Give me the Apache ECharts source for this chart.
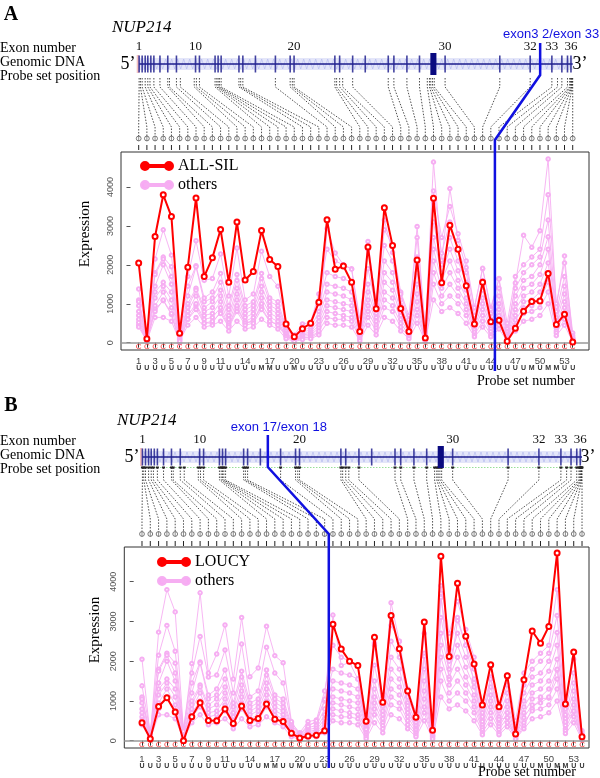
<!DOCTYPE html>
<html><head><meta charset="utf-8">
<script src="https://cdn.jsdelivr.net/npm/echarts@6/dist/echarts.min.js"></script>
<style>html,body{margin:0;padding:0;background:#fff}#c{width:600px;height:778px}</style>
</head><body><div id="c"></div>
<script>
// ---------------- DATA ----------------
const probeNumbers = [1,2,3,4,5,6,7,8,9,10,11,12,13,14,15,16,17,18,19,20,21,22,23,24,25,26,27,28,29,30,31,32,33,34,35,36,37,38,39,40,41,42,43,44,45,46,47,48,49,50,51,52,53,54];
const tickLabelProbes = [1,3,5,7,9,11,14,17,20,23,26,29,32,35,38,41,44,47,50,53];
const yTickValues = [0,1000,2000,3000,4000];
const probeTypes = ['U','U','U','U','U','U','U','U','U','U','U','U','U','U','U','M','M','U','U','M','U','U','U','U','U','U','U','U','U','U','U','U','U','U','U','U','U','U','U','U','U','U','U','U','U','U','U','U','M','U','M','M','U','U'];

const allSil = [2050,100,2730,3800,3240,240,1940,3720,1700,2180, 2910,1550,3100,1610,1830,2880,2140,1960,480,150, 360,500,1040,3160,1890,1970,1550,290,2460,870, 3470,2500,880,290,2125,120,3710,1540,3020,2400, 1460,480,1550,540,575,35,370,810,1060,1070, 1780,470,730,20];
const loucy = [450,50,860,1080,720,0,600,955,510,500, 800,430,870,510,560,920,540,480,185,70, 120,135,250,2930,2305,2000,1890,490,2600,965, 3150,2315,1250,590,2985,260,4640,2120,3960,2625, 1930,900,1910,855,1635,170,1535,2760,2450,2875, 4720,920,2230,100];

// other cell lines (shared by both panels)
const o1 = [1380,200,2150,2900,2250,300,1700,2620,1600,1650, 2280,1200,2430,1100,1250,2350,1700,1450,450,200, 480,520,1250,2400,2100,2000,1900,600,2400,1100, 2900,2500,1300,700,2700,350,3900,2700,3500,2800, 2100,900,1900,900,1650,500,1700,2000,2200,2400, 3800,1000,2050,250];
const o2 = [1100,150,1800,2200,1950,250,1450,1980,1150,1300, 1780,950,1750,950,1050,1780,1150,1050,400,150, 400,450,1000,1800,1700,1650,1550,450,1900,900, 2500,2100,1100,550,2200,280,3600,2300,3100,2400, 1800,700,1600,750,1400,350,1400,1800,2000,2200, 3150,800,1700,180];
const o3 = [1050,130,1750,2150,1700,200,1200,1950,1050,1150, 1550,850,1600,850,950,1650,1050,950,350,130, 330,380,800,1500,1450,1400,1300,350,1500,750, 2100,1800,950,450,1800,220,3100,2000,2700,2100, 1550,600,1350,600,1200,280,1200,1600,1700,2000, 2720,650,1450,130];
const o4 = [950,110,1450,2000,1500,150,1000,1400,900,1050, 1350,700,1400,750,850,1450,950,850,300,110, 280,320,650,1300,1250,1200,1100,300,1300,650, 1800,1550,800,380,1500,180,2700,1800,2400,1850, 1350,500,1150,500,1000,220,1000,1400,1500,1750, 2400,550,1250,100];
const o5 = [800,100,1300,1550,1300,120,900,1350,800,900, 1200,600,1250,650,750,1300,850,750,250,90, 230,270,550,1100,1050,1000,950,250,1100,550, 1550,1350,700,320,1250,150,2400,1600,2100,1600, 1150,400,1000,420,850,170,850,1200,1300,1500, 2050,450,1050,80];
const o6 = [700,80,1150,1450,1100,100,800,1200,700,750, 1050,500,1100,550,650,1150,750,650,220,70, 200,230,450,950,900,850,800,200,950,450, 1300,1150,600,260,1050,120,2100,1400,1800,1400, 1000,330,850,350,700,130,700,1050,1100,1300, 1800,380,900,60];
const o7 = [600,60,950,1300,900,80,700,1000,600,650, 900,450,950,500,550,1000,650,550,180,60, 160,190,380,800,750,700,650,150,800,380, 1100,950,500,200,850,90,1800,1200,1500,1200, 850,270,700,280,580,100,580,900,950,1100, 1550,300,750,40];
const o8 = [520,50,800,1100,750,60,600,850,500,550, 750,400,800,450,500,850,550,450,150,50, 120,150,300,650,600,600,550,100,650,300, 900,800,400,150,700,60,1500,1000,1200,1000, 700,200,550,200,450,70,450,750,800,900, 1300,250,600,30];
const o9 = [400,40,650,650,550,40,450,650,400,450, 550,300,550,350,400,600,450,350,100,30, 80,100,200,500,450,450,400,50,450,200, 650,550,300,100,500,40,1100,800,900,750, 500,150,400,150,350,40,300,550,600,700, 1000,180,450,20];
const sharedOthers = [o1,o2,o3,o4,o5,o6,o7,o8,o9];

// gene model (relative genomic coordinate, 0 = 5' end, 1000 = 3' end)
const geneSpan = [0, 1000];
const exonPos = [1,8,15,21,28,35,49,67,87,131,140,176,183,190,231,240,269,315,349,358,452,463,493,522,575,588,618,647,672,706,832,902,952,975,988,996];
const exonWidth = [2,2,2,2,2,3,2,3,2,3,2,3,2,2,3,2,2,2,3,2,2,2,2,2,2,2,2,2,14,2,2,2,2,2,2,2];
const exonLabelled = [1,10,20,30,32,33,36];
const probeGenomicPos = [1,4,8,15,21,26,35,49,67,71,87,96,128,133,140,176,180,183,186,190,231,235,240, 315,349,354,358,452,456,463,470,493,575,588,618,647,665,670,673,677,681,706,832,902, 952,965,975,988,993,995,997,998,999,1000];
const breakA = {gene: 925, probe: 44.5, label: 'exon3 2/exon 33'};
const breakB = {gene: 286, probe: 23.5, label: 'exon 17/exon 18'};

// ---------------- LAYOUT ----------------
const SERIF = '"Liberation Serif", "DejaVu Serif", serif';
const SANS = '"Liberation Sans", "DejaVu Sans", sans-serif';
const PINK = '#f6aef2';
const RED = '#ff0000';
const BLUE = '#1010e0';
const g2i = g => 1 + 53 * g / 1000;

const PA = {xmin:-1.16, xmax:55.99, left:121, width:468, top:152, height:198, ymin:-188, ymax:4900,
  diagTop:30, diagH:120, exonLabelY:47, geneY:64, probeTopY:78, probeVY:87, probeDY:127, circleY:138.5, tickY1:145, tickY2:150,
  blueTop:43, blueK1:75, blueK2:140, blueEnd:371, labelDy:-9, green:false};
const PB = {xmin:-1.13, xmax:54.84, left:124.3, width:464.7, top:547, height:201, ymin:-184, ymax:4873,
  diagTop:425, diagH:122, exonLabelY:440, geneY:457, probeTopY:467.5, probeVY:480, probeDY:519, circleY:534, tickY1:541, tickY2:546,
  blueTop:435, blueK1:467, blueK2:534, blueEnd:768, labelDy:-8, green:true};

const grids = [], xAxes = [], yAxes = [];
function addAxes(P) {
  grids.push({left:P.left, width:P.width, top:P.diagTop, height:P.diagH, show:false});
  grids.push({left:P.left, width:P.width, top:P.top, height:P.height, show:true, borderColor:'#333', borderWidth:1, backgroundColor:'transparent'});
  const gi = grids.length - 2;
  P.dx = xAxes.length; xAxes.push({gridIndex:gi, type:'value', min:P.xmin, max:P.xmax, show:false});
  P.px = xAxes.length; xAxes.push({gridIndex:gi+1, type:'value', min:P.xmin, max:P.xmax, position:'bottom',
    axisLine:{show:false}, splitLine:{show:false},
    axisTick:{show:true, customValues:probeNumbers, length:5, lineStyle:{color:'#333'}},
    axisLabel:{show:true, customValues:tickLabelProbes, margin:6, fontSize:9.5, color:'#444', fontFamily:SANS, formatter: v => String(v)}});
  xAxes.push({gridIndex:gi+1, type:'value', min:P.xmin, max:P.xmax, position:'bottom',
    axisLine:{show:false}, splitLine:{show:false}, axisTick:{show:false},
    axisLabel:{show:true, customValues:probeNumbers, margin:15, fontSize:7, color:'#333', fontFamily:SANS, fontWeight:'bold',
      formatter: v => probeTypes[Math.round(v)-1] || ''}});
  P.dy = yAxes.length; yAxes.push({gridIndex:gi, type:'value', min:0, max:P.diagH, inverse:true, show:false});
  P.py = yAxes.length; yAxes.push({gridIndex:gi+1, type:'value', min:P.ymin, max:P.ymax,
    axisLine:{show:false}, splitLine:{show:false},
    axisTick:{show:true, customValues:yTickValues, length:4, lineStyle:{color:'#555'}},
    axisLabel:{show:true, customValues:yTickValues, rotate:90, margin:6, fontSize:9, color:'#555', fontFamily:SANS, formatter: v => String(v)}});
}
addAxes(PA); addAxes(PB);

function diagramSeries(P, brk) {
  const base = {type:'custom', coordinateSystem:'cartesian2d', xAxisIndex:P.dx, yAxisIndex:P.dy, silent:true, animation:false, clip:false};
  const X = (api, idx) => api.coord([idx, 0])[0];
  return [
    {...base, z:3, data:[geneSpan], renderItem:(params, api) => {
      const x0 = X(api, g2i(api.value(0))), x1 = X(api, g2i(api.value(1)));
      const ch = [{type:'rect', shape:{x:x0, y:P.geneY-6, width:x1-x0, height:12}, style:{fill:'#d8dbf7', opacity:0.7}}];
      const pts = [];
      for (let x = x0, k = 0; x <= x1; x += 3, k++) pts.push([x, P.geneY + (k % 2 ? -5 : 5)]);
      ch.push({type:'polyline', shape:{points:pts}, style:{stroke:'#b0b7ee', lineWidth:0.6, fill:null}});
      ch.push({type:'line', shape:{x1:x0, y1:P.geneY, x2:x1, y2:P.geneY}, style:{stroke:'#1c1c8c', lineWidth:1.6}});
      ch.push({type:'rect', shape:{x:x0-2, y:P.geneY-9, width:2.5, height:18}, style:{fill:'#f3c0c0'}});
      if (P.green) ch.push({type:'line', shape:{x1:x0, y1:P.probeTopY, x2:x1, y2:P.probeTopY}, style:{stroke:'#98e098', lineWidth:1, lineDash:[1.5,1.5]}});
      return {type:'group', children:ch};
    }},
    {...base, z:4, data:exonPos.map((p,i)=>[p, exonWidth[i], i+1]), renderItem:(params, api) => {
      const xa = X(api, g2i(api.value(0))), xb = X(api, g2i(api.value(0) + api.value(1)));
      const w = Math.max(1.6, xb - xa), n = api.value(2), big = api.value(1) > 5;
      const h = big ? 22 : 17;
      const ch = [{type:'rect', shape:{x:xa - (big?0:w/2), y:P.geneY-h/2, width:w, height:h}, style:{fill: big ? '#0a0a80' : '#22228f', opacity: big ? 1 : 0.85}}];
      if (exonLabelled.includes(n)) ch.push({type:'text', x:xa, y:P.exonLabelY, style:{text:String(n), font:'13px '+SERIF, fill:'#111', align:'center', verticalAlign:'middle', textAlign:'center', textVerticalAlign:'middle'}});
      return {type:'group', children:ch};
    }},
    {...base, z:3, data:probeGenomicPos.map((g,i)=>[g, probeNumbers[i]]), renderItem:(params, api) => {
      const xt = X(api, g2i(api.value(0))), xb = X(api, api.value(1));
      const ch = [
        {type:'polyline', shape:{points:[[xt,P.probeTopY],[xt,P.probeVY],[xb,P.probeDY],[xb,P.circleY-2.5]]}, style:{stroke:'#222', lineWidth:0.8, lineDash:[1.5,1.5], fill:null}},
        {type:'circle', shape:{cx:xb, cy:P.circleY, r:2.4}, style:{stroke:'#444', lineWidth:0.7, fill:'#fff'}},
        {type:'line', shape:{x1:xb, y1:P.circleY-2.4, x2:xb, y2:P.circleY+2.4}, style:{stroke:'#444', lineWidth:0.6}},
        {type:'line', shape:{x1:xb, y1:P.tickY1, x2:xb, y2:P.tickY2}, style:{stroke:'#222', lineWidth:1}}
      ];
      if (P.green) ch.push({type:'rect', shape:{x:xt-1.5, y:P.probeTopY-1, width:3, height:2}, style:{fill:'#222'}});
      return {type:'group', children:ch};
    }},
    {...base, z:20, data:[[brk.gene, brk.probe]], renderItem:(params, api) => {
      const xt = X(api, g2i(api.value(0))), xb = X(api, api.value(1));
      return {type:'group', children:[
        {type:'polyline', shape:{points:[[xt,P.blueTop],[xt,P.blueK1],[xb,P.blueK2],[xb,P.blueEnd]]}, style:{stroke:BLUE, lineWidth:2.5, fill:null}},
        {type:'text', x:xt+11, y:P.blueTop+P.labelDy, style:{text:brk.label, font:'13px '+SANS, fill:BLUE, align:'center', verticalAlign:'middle', textAlign:'center', textVerticalAlign:'middle'}}
      ]};
    }}
  ];
}

function plotSeries(P, focusName, focusData, extraOther) {
  const list = [];
  const others = sharedOthers.slice(0, 5).concat([extraOther]).concat(sharedOthers.slice(5));
  others.forEach(arr => list.push({type:'line', name:'others', xAxisIndex:P.px, yAxisIndex:P.py,
    data: arr.map((v,i)=>[probeNumbers[i], v]), symbol:'emptyCircle', symbolSize:3.5, showSymbol:true,
    lineStyle:{color:PINK, width:0.9}, itemStyle:{color:PINK, borderColor:PINK, borderWidth:0.6}, z:2, silent:true, animation:false}));
  list.push({type:'custom', xAxisIndex:P.px, yAxisIndex:P.py, silent:true, animation:false, z:3, clip:false,
    data: probeNumbers.map(i => [i, -100]),
    renderItem:(params, api) => {
      const p = api.coord([api.value(0), api.value(1)]);
      return {type:'text', x:p[0], y:p[1], style:{text:'C', font:'8px '+SANS, fill:'#ff3030', align:'center', verticalAlign:'middle', textAlign:'center', textVerticalAlign:'middle'}};
    }});
  list.push({type:'line', name:focusName, xAxisIndex:P.px, yAxisIndex:P.py,
    data: focusData.map((v,i)=>[probeNumbers[i], v]), symbol:'emptyCircle', symbolSize:5, showSymbol:true,
    lineStyle:{color:RED, width:2}, itemStyle:{color:RED, borderColor:RED, borderWidth:1.5}, z:6, silent:true, animation:false,
    markLine:{silent:true, symbol:'none', label:{show:false}, lineStyle:{color:'#999', width:1.5, type:'solid'}, data:[{yAxis:0}], animation:false}});
  return list;
}

const ICON = 'path://M4,0A4,4,0,1,1,4,8A4,4,0,1,1,4,0Z M4,3.1H28V4.9H4Z M28,0A4,4,0,1,1,28,8A4,4,0,1,1,28,0Z';
function legendFor(name, left, top) {
  return {orient:'vertical', left, top, itemWidth:32, itemHeight:8, itemGap:3, icon:ICON,
    data:[{name, itemStyle:{color:RED}}, {name:'others', itemStyle:{color:'#f8a8f4'}}],
    textStyle:{fontFamily:SERIF, fontSize:16, color:'#000', padding:[0,0,0,0]}, selectedMode:false};
}

function txt(x, y, text, font, opts) {
  return Object.assign({type:'text', x, y, silent:true, style:Object.assign({text, font, fill:'#000', align:'left', verticalAlign:'middle', textAlign:'left', textVerticalAlign:'middle'}, opts||{})});
}
const graphics = [
  txt(11, 15, 'A', 'bold 20px '+SERIF, {align:'center', textAlign:'center'}),
  txt(112, 28, 'NUP214', 'italic 17px '+SERIF),
  txt(0, 48, 'Exon number', '14px '+SERIF),
  txt(0, 62, 'Genomic DNA', '14px '+SERIF),
  txt(0, 76, 'Probe set position', '14px '+SERIF),
  txt(128, 64, '5\u2019', '18px '+SERIF, {align:'center', textAlign:'center'}),
  txt(580, 64, '3\u2019', '18px '+SERIF, {align:'center', textAlign:'center'}),
  Object.assign(txt(85, 234, 'Expression', '15px '+SERIF, {align:'center', textAlign:'center'}), {rotation:Math.PI/2}),
  txt(477, 381, 'Probe set number', '14px '+SERIF),
  txt(11, 406, 'B', 'bold 20px '+SERIF, {align:'center', textAlign:'center'}),
  txt(117, 421, 'NUP214', 'italic 17px '+SERIF),
  txt(0, 441, 'Exon number', '14px '+SERIF),
  txt(0, 455, 'Genomic DNA', '14px '+SERIF),
  txt(0, 469, 'Probe set position', '14px '+SERIF),
  txt(132, 457, '5\u2019', '18px '+SERIF, {align:'center', textAlign:'center'}),
  txt(588, 457, '3\u2019', '18px '+SERIF, {align:'center', textAlign:'center'}),
  Object.assign(txt(95, 630, 'Expression', '15px '+SERIF, {align:'center', textAlign:'center'}), {rotation:Math.PI/2}),
  txt(478, 772, 'Probe set number', '14px '+SERIF)
];

const chart = echarts.init(document.getElementById('c'), null, {renderer:'canvas'});
chart.setOption({
  animation:false,
  backgroundColor:'#fff',
  grid: grids, xAxis: xAxes, yAxis: yAxes,
  legend: [legendFor('ALL-SIL', 135, 153), legendFor('LOUCY', 152, 549)],
  graphic: graphics,
  series: [].concat(
    diagramSeries(PA, breakA), plotSeries(PA, 'ALL-SIL', allSil, loucy),
    diagramSeries(PB, breakB), plotSeries(PB, 'LOUCY', loucy, allSil))
});
</script></body></html>
